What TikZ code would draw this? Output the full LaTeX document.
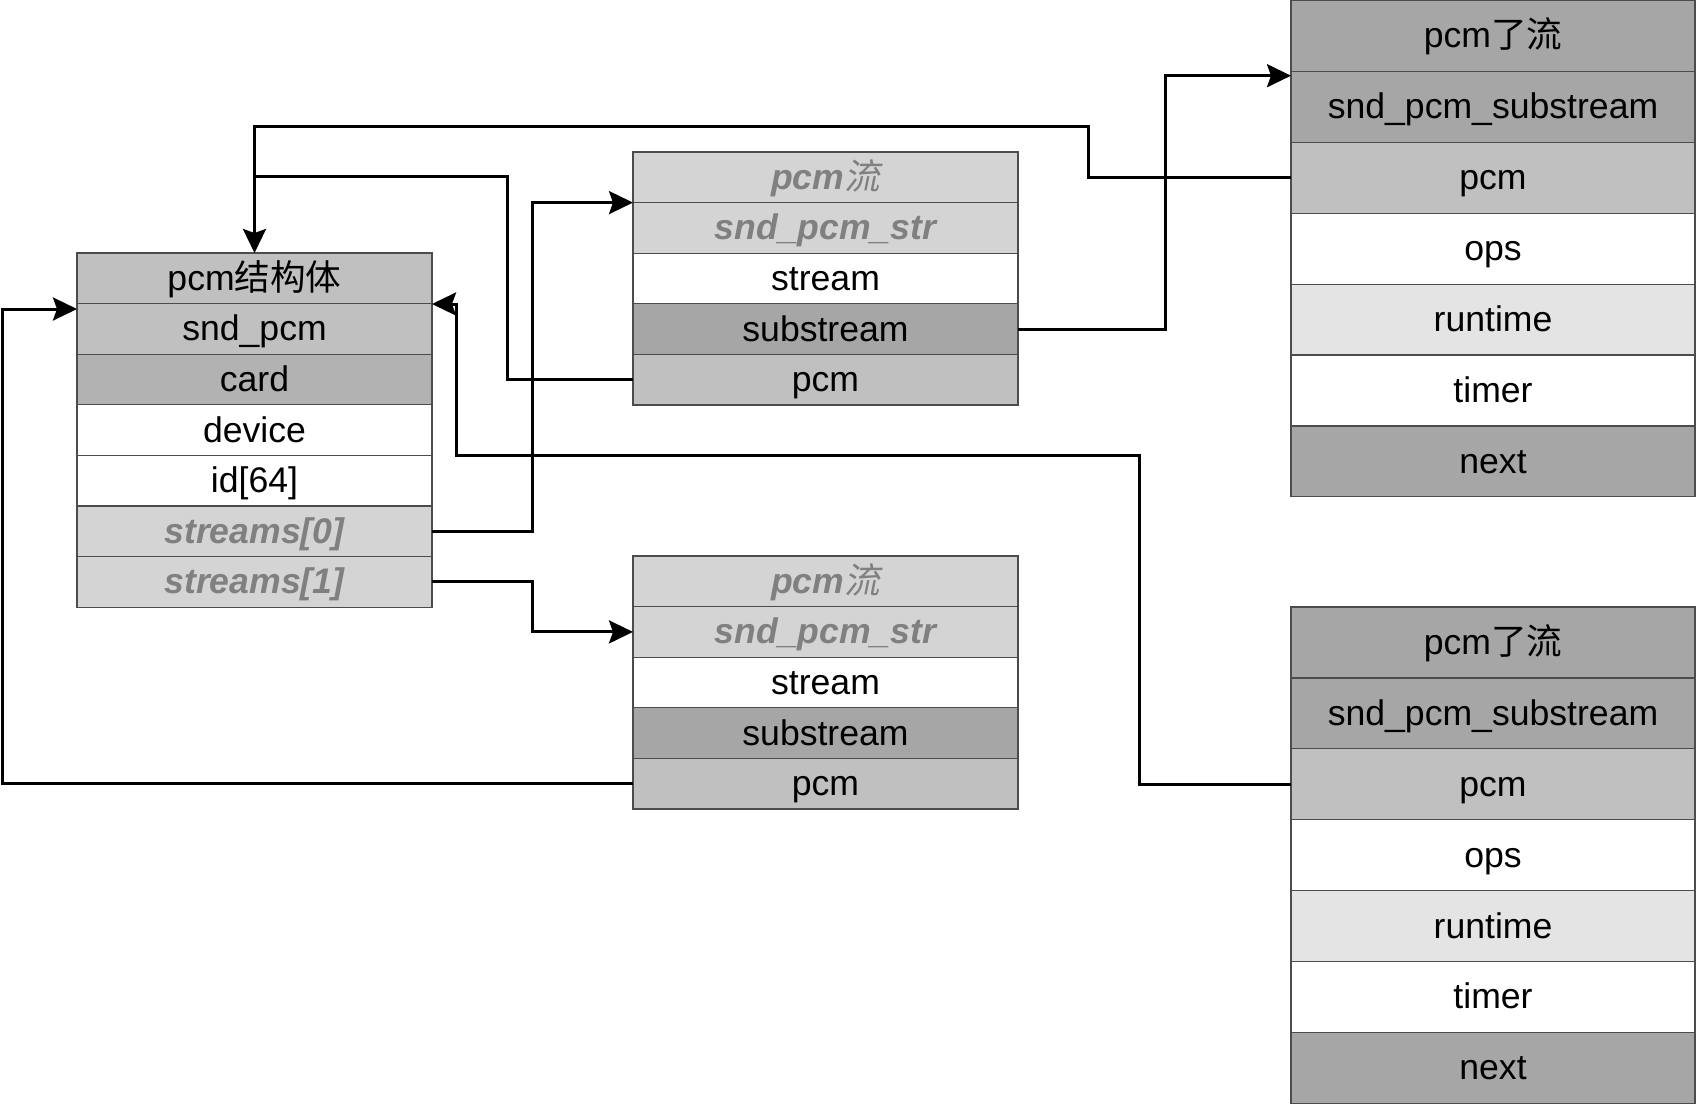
\documentclass[tikz,border=0pt]{standalone}
\usepackage{fontspec}
\setmainfont{Liberation Sans}
\newfontfamily\cjk{Noto Sans CJK SC}
\newfontfamily\cjkit{Noto Sans CJK SC}[FakeSlant=0.2]
\usepackage{xcolor}
\usepackage{tikz}
\usetikzlibrary{arrows.meta}

\definecolor{shadeA}{HTML}{A6A6A6}
\definecolor{shadeB}{HTML}{C0C0C0}
\definecolor{shadeC}{HTML}{B2B2B2}
\definecolor{shadeD}{HTML}{D4D4D4}
\definecolor{shadeE}{HTML}{E4E4E4}
\definecolor{txtgray}{HTML}{808080}

\tikzset{
  cell/.style={draw=black!70, line width=0.6pt, inner sep=0pt, outer sep=0pt, anchor=north west, text height=15.5pt, text depth=3.5pt, font=\fontsize{17.8}{21}\selectfont},
  lcell/.style={cell, minimum width=177.5pt, minimum height=25.3pt},
  mcell/.style={cell, minimum width=192.5pt, minimum height=25.3pt},
  rcell/.style={cell, minimum width=202pt, minimum height=35.45pt},
  faded/.style={text=txtgray, font=\fontsize{17.8}{21}\selectfont\bfseries\itshape},
  link/.style={line width=1.5pt, -{Stealth[length=12pt,width=11.5pt,inset=2pt]}},
}

\begin{document}
\begin{tikzpicture}[x=0.5pt,y=0.5pt,yscale=-1,xscale=1]
\useasboundingbox (0,0) rectangle (1696,1104);

\node[lcell, fill=shadeB] (lhead) at (77,253) {pcm{\cjk 结构体}};
\node[lcell, fill=shadeB] (lsnd) at (77,303.6) {snd\_pcm};
\node[lcell, fill=shadeC] (lcard) at (77,354.2) {card};
\node[lcell, fill=white] (ldev) at (77,404.8) {device};
\node[lcell, fill=white] (lid) at (77,455.4) {id[64]};
\node[lcell, fill=shadeD, faded] (ls0) at (77,506) {streams[0]};
\node[lcell, fill=shadeD, faded] (ls1) at (77,556.6) {streams[1]};

\node[mcell, fill=shadeD, faded] (mthead) at (633,152) {pcm{\cjkit\mdseries 流}};
\node[mcell, fill=shadeD, faded] (mtstr) at (633,202.6) {snd\_pcm\_str};
\node[mcell, fill=white] (mtstream) at (633,253.2) {stream};
\node[mcell, fill=shadeA] (mtsub) at (633,303.8) {substream};
\node[mcell, fill=shadeB] (mtpcm) at (633,354.4) {pcm};

\node[mcell, fill=shadeD, faded] (mbhead) at (633,556) {pcm{\cjkit\mdseries 流}};
\node[mcell, fill=shadeD, faded] (mbstr) at (633,606.6) {snd\_pcm\_str};
\node[mcell, fill=white] (mbstream) at (633,657.2) {stream};
\node[mcell, fill=shadeA] (mbsub) at (633,707.8) {substream};
\node[mcell, fill=shadeB] (mbpcm) at (633,758.4) {pcm};

\node[rcell, fill=shadeA] (rthead) at (1291,0.5) {pcm{\cjk 了流}};
\node[rcell, fill=shadeA] (rtsub) at (1291,71.4) {snd\_pcm\_substream};
\node[rcell, fill=shadeB] (rtpcm) at (1291,142.3) {pcm};
\node[rcell, fill=white] (rtops) at (1291,213.2) {ops};
\node[rcell, fill=shadeE] (rtrun) at (1291,284.1) {runtime};
\node[rcell, fill=white] (rttimer) at (1291,355) {timer};
\node[rcell, fill=shadeA] (rtnext) at (1291,425.9) {next};

\node[rcell, fill=shadeA] (rbhead) at (1291,607) {pcm{\cjk 了流}};
\node[rcell, fill=shadeA] (rbsub) at (1291,677.9) {snd\_pcm\_substream};
\node[rcell, fill=shadeB] (rbpcm) at (1291,748.8) {pcm};
\node[rcell, fill=white] (rbops) at (1291,819.7) {ops};
\node[rcell, fill=shadeE] (rbrun) at (1291,890.6) {runtime};
\node[rcell, fill=white] (rbtimer) at (1291,961.5) {timer};
\node[rcell, fill=shadeA] (rbnext) at (1291,1032.4) {next};

\coordinate (k1) at (1088,126.5);
\coordinate (k2) at (507,176.7);
\coordinate (k5) at (1165,75.7);
\coordinate (k6) at (2,309);
\coordinate (k7) at (1139,455);
\coordinate (k7b) at (456,304);

\draw[link] (rtpcm.west) -| (k1) -| (lhead.north);
\draw[line width=1.5pt] (mtpcm.west) -| (k2) -- (k2 -| lhead.north);
\draw[link] (ls0.east) -- ++(100,0) |- (mthead.south west);
\draw[link] (ls1.east) -- ++(100,0) |- (mbstr.west);
\draw[link] (mtsub.east) -| (k5) -- (k5 -| rthead.west);
\draw[link] (mbpcm.west) -| (k6) -- (k6 -| lhead.west);
\draw[link] (rbpcm.west) -| (k7) -| (k7b) -- (k7b -| lhead.east);
\end{tikzpicture}
\end{document}
